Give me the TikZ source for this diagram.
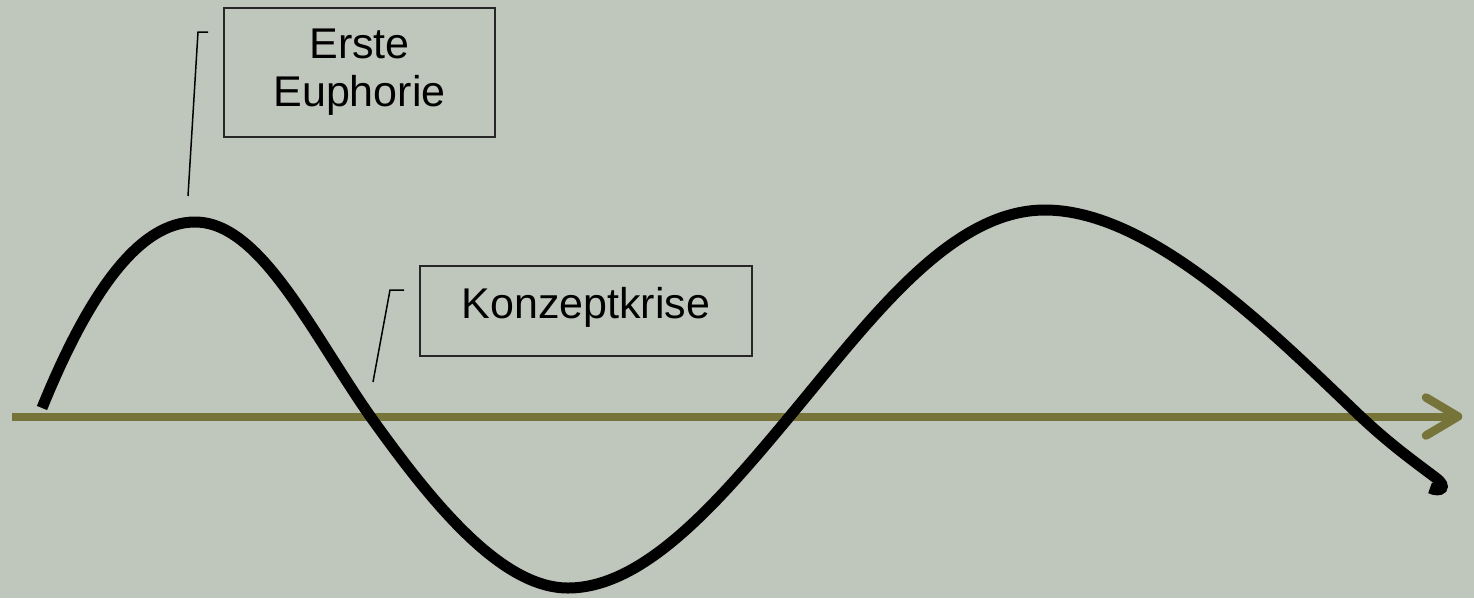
\documentclass[tikz,border=0pt]{standalone}
\usepackage{fontspec}
\setmainfont{Liberation Sans}
\definecolor{bgcol}{RGB}{191,198,187}
\definecolor{axiscol}{RGB}{119,116,58}
\begin{document}
\begin{tikzpicture}[x=1pt,y=-1pt,
  labelbox/.style={draw=black!85, line width=1.4pt, inner sep=0pt, font=\fontsize{43}{48}\selectfont, align=center},
  callout/.style={draw=black, line width=1.5pt},
  wave/.style={draw=black, line width=11pt},
  axisline/.style={draw=axiscol, line width=8pt},
  axistip/.style={draw=axiscol, line width=8.5pt, line cap=round, line join=round}]
  % canvas
  \fill[bgcol] (0,0) rectangle (1474,598);
  \useasboundingbox (0,0) rectangle (1474,598);

  % time axis
  \coordinate (axis-start) at (12,416.5);
  \coordinate (axis-end) at (1458,416.5);
  \draw[axisline] (axis-start) -- (axis-end);
  \draw[axistip] (axis-end) ++(-32,-19) -- (axis-end) -- ++(-32,19);

  % phase curve
  \draw[wave] (42,408) .. controls (90,290) and (140,222) .. (195,222)
    .. controls (260,222) and (310,330) .. (370,416)
    .. controls (430,500) and (500,588) .. (568,588)
    .. controls (645,588) and (720,500) .. (790,416)
    .. controls (870,320) and (950,210) .. (1045,210)
    .. controls (1150,210) and (1270,330) .. (1360,416)
    .. controls (1392,446) and (1415,462) .. (1436,478)
    .. controls (1448,487) and (1441,493) .. (1430,488);

  % labels
  \node[labelbox, minimum width=271pt, minimum height=129pt] (euphorie) at (359.5,72.5) {Erste\\Euphorie};
  \node[labelbox, minimum width=332pt, minimum height=90pt] (krise) at (586,311) {\raisebox{16pt}{Konzeptkrise}};

  % callout leaders
  \coordinate (eu-foot) at (188,196);
  \coordinate (eu-knee) at (198,32);
  \coordinate (eu-hook) at (208,32);
  \draw[callout] (eu-foot) -- (eu-knee) -- (eu-hook);
  \coordinate (kr-foot) at (373,382);
  \coordinate (kr-knee) at (390,290);
  \coordinate (kr-hook) at (404,290);
  \draw[callout] (kr-foot) -- (kr-knee) -- (kr-hook);
\end{tikzpicture}
\end{document}
